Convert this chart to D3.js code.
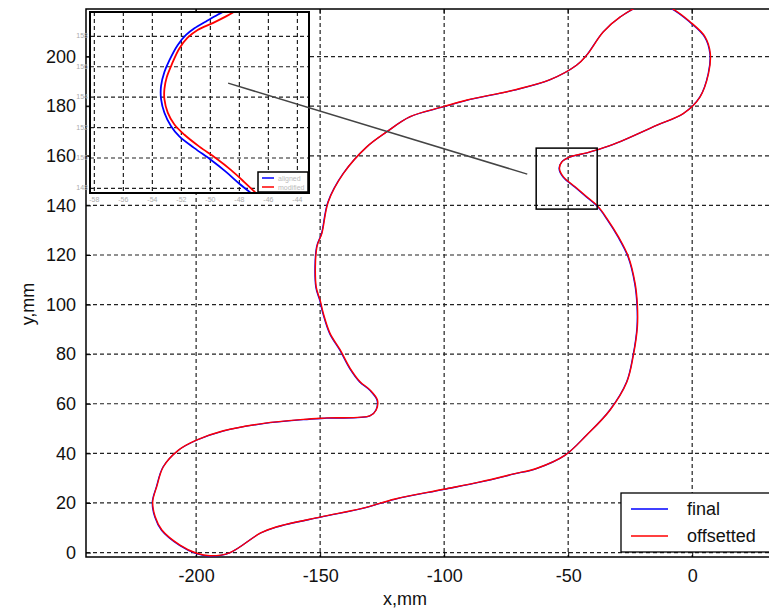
<!DOCTYPE html>
<html>
<head>
<meta charset="utf-8">
<script src="https://cdn.jsdelivr.net/npm/d3@7"></script>
<style>
  body { margin: 0; background: #fff; }
  text { font-family: "Liberation Sans", Arial, sans-serif; }
</style>
</head>
<body>
<svg id="chart" width="769" height="612"></svg>
<script>
// traced contour (closed loop), mm
const pathX = [-194.4, -186.3, -174, -167.5, -149.6, -132.7, -119.8, -100.3, -85.5, -72, -62.6, -51.2, -42.5, -33.1,
  -26.3, -23.7, -22.1, -22.1, -23, -25.7, -29.7, -34.4, -37.8, -42.5, -47.2, -51.9, -53.5, -52.5, -49.2, -42.5,
  -37.8, -30.4, -14.2, -3.5, 3.2, 6.6, 7.3, 5.2, -0.1, -10.2, -21, -29, -35.8, -42.5, -46.5, -57.3, -72, -90.8,
  -100.3, -113.7, -123.1, -131.2, -140.6, -146.7, -149.3, -151.3, -151.6, -150, -148.7, -146, -141.9, -137.9,
  -133.9, -129.8, -126.9, -127.4, -129.8, -147.3, -156.7, -172.8, -189, -199.7, -207.1, -213.2, -215.9, -217.5,
  -216.5, -213.8, -206.5, -199.8];
const pathY = [-1.3, 0, 7.9, 10.4, 14.4, 17.9, 21.6, 25.5, 28.5, 31.7, 34, 39.3, 47.4, 57.5,
  68.9, 79.6, 91, 99.8, 108.5, 119.3, 127.3, 134.8, 139.4, 143.5, 147.5, 151.5, 154.9, 157.6, 159.6, 161.2,
  162.6, 165.2, 172.4, 177.1, 183.8, 193.2, 201.3, 208, 213.4, 220.3, 220.3, 216, 210, 200.6, 196.6, 190.7, 186.5, 182.5,
  179.8, 175.8, 169.7, 163.6, 152.9, 141.5, 128.7, 123.3, 107.2, 101.8, 96.4, 88.4, 81.7, 74.3,
  68.9, 65.5, 61.5, 57.5, 55.2, 54.3, 53.7, 52.1, 49.1, 45.4, 41.3, 34.6, 26.5, 20.5,
  14.4, 9.1, 3, -0.3];

// zoomed detail (inset)
const insetFinalX = [-48.92, -49.5, -50.3, -51.1, -51.68, -52.26, -52.83, -53.17, -53.4, -53.4, -53.17, -52.71, -52.14, -51.1, -49.95, -48.92, -48.0, -47.19];
const insetFinalY = [159.71, 159.42, 158.98, 158.53, 158.09, 157.42, 156.42, 155.65, 154.75, 153.87, 152.98, 152.09, 151.42, 150.65, 149.87, 149.09, 148.31, 147.69];
const insetOffX = [-48.19, -48.92, -49.84, -50.88, -51.57, -52.14, -52.64, -53.01, -53.17, -53.17, -52.94, -52.48, -51.79, -50.76, -49.61, -48.57, -47.66, -46.85];
const insetOffY = [159.71, 159.31, 158.87, 158.42, 157.91, 157.2, 156.2, 155.31, 154.53, 153.87, 152.98, 152.2, 151.53, 150.75, 149.98, 149.2, 148.42, 147.69];

const xTicks = [-200, -150, -100, -50, 0];
const yTicks = [0, 20, 40, 60, 80, 100, 120, 140, 160, 180, 200];
const insetXTicks = [-58, -56, -54, -52, -50, -48, -46, -44];
const insetYTicks = [148, 150, 152, 154, 156, 158];

const zoomBox = {x0: -62.9, x1: -38.3, y0: 138.5, y1: 163.1};
const pointer = {x0: -187.1, y0: 189.3, x1: -66.5, y1: 152.6};

const legendNames = ["final", "offsetted"];
const insetLegendNames = ["aligned", "modified"];
const colors = ["#0000ff", "#ff0000"];

const svg = d3.select("#chart");

const pl = 86, pt = 9, pr = 779, pb = 557;
const x = d3.scaleLinear().domain([-244.4, 35]).range([pl, pr]);
const y = d3.scaleLinear().domain([-1.8, 219.2]).range([pb, pt]);

svg.append("clipPath").attr("id", "plotClip")
  .append("rect").attr("x", pl).attr("y", pt).attr("width", pr - pl).attr("height", pb - pt);

// grid
const grid = svg.append("g").attr("stroke", "#222").attr("stroke-width", 1.2).attr("stroke-dasharray", "4,3");
grid.selectAll("line.vx").data(xTicks).join("line")
  .attr("x1", d => x(d)).attr("x2", d => x(d)).attr("y1", pt).attr("y2", pb);
grid.selectAll("line.hy").data(yTicks).join("line")
  .attr("y1", d => y(d)).attr("y2", d => y(d)).attr("x1", pl).attr("x2", pr);

// axes (plain hyphen minus like the original)
const fmt = d => String(d);
const xAxis = d3.axisBottom(x).tickValues(xTicks).tickFormat(fmt).tickSizeInner(-5).tickSizeOuter(0).tickPadding(12);
const yAxis = d3.axisLeft(y).tickValues(yTicks).tickFormat(fmt).tickSizeInner(-5).tickSizeOuter(0).tickPadding(10);
const gx = svg.append("g").attr("transform", `translate(0,${pb})`).call(xAxis);
const gy = svg.append("g").attr("transform", `translate(${pl},0)`).call(yAxis);
[gx, gy].forEach(g => {
  g.select(".domain").remove();
  g.selectAll("line").attr("stroke", "#000");
  g.selectAll("text").attr("font-size", 18).attr("fill", "#111")
    .attr("font-family", "Liberation Sans, Arial, sans-serif");
});
// top ticks
svg.append("g").selectAll("line").data(xTicks).join("line")
  .attr("x1", d => x(d)).attr("x2", d => x(d)).attr("y1", pt).attr("y2", pt + 5).attr("stroke", "#000");

svg.append("rect").attr("x", pl).attr("y", pt).attr("width", pr - pl).attr("height", pb - pt)
  .attr("fill", "none").attr("stroke", "#000").attr("stroke-width", 1.5);

// curves
const pts = pathX.map((v, i) => [v, pathY[i]]);
const line = d3.line().x(d => x(d[0])).y(d => y(d[1])).curve(d3.curveCatmullRomClosed.alpha(0.5));
const curves = svg.append("g").attr("clip-path", "url(#plotClip)");
curves.append("path").attr("d", line(pts)).attr("fill", "none")
  .attr("stroke", colors[0]).attr("stroke-width", 1.3).attr("transform", "translate(-0.4,0.3)");
curves.append("path").attr("d", line(pts)).attr("fill", "none")
  .attr("stroke", colors[1]).attr("stroke-width", 1.4);

// zoom rectangle
svg.append("rect")
  .attr("x", x(zoomBox.x0)).attr("y", y(zoomBox.y1))
  .attr("width", x(zoomBox.x1) - x(zoomBox.x0)).attr("height", y(zoomBox.y0) - y(zoomBox.y1))
  .attr("fill", "none").attr("stroke", "#000").attr("stroke-width", 1.5);

// legend
const lg = svg.append("g");
lg.append("rect").attr("x", 621).attr("y", 493).attr("width", 160).attr("height", 59)
  .attr("fill", "#fff").attr("stroke", "#000").attr("stroke-width", 1.3);
legendNames.forEach((name, i) => {
  const ly = 509 + i * 27;
  lg.append("line").attr("x1", 631).attr("x2", 668).attr("y1", ly).attr("y2", ly)
    .attr("stroke", colors[i]).attr("stroke-width", 1.5);
  lg.append("text").attr("x", 687).attr("y", ly + 6).attr("font-size", 18).attr("fill", "#111").text(name);
});

// axis titles
svg.append("text").attr("x", 405).attr("y", 605).attr("text-anchor", "middle")
  .attr("font-size", 18).attr("fill", "#111").text("x,mm");
svg.append("text").attr("transform", "translate(34,304) rotate(-90)").attr("text-anchor", "middle")
  .attr("font-size", 18).attr("fill", "#111").text("y,mm");

// inset
const ix = d3.scaleLinear().domain([-58.3, -43.2]).range([90, 309]);
const iy = d3.scaleLinear().domain([147.7, 159.6]).range([193, 12]);
const inset = svg.append("g");
svg.append("clipPath").attr("id", "insetClip")
  .append("rect").attr("x", 90).attr("y", 12).attr("width", 219).attr("height", 181);
inset.append("rect").attr("x", 90).attr("y", 12).attr("width", 219).attr("height", 181).attr("fill", "#fff");
const ig = inset.append("g").attr("stroke", "#222").attr("stroke-width", 1.2).attr("stroke-dasharray", "4,3");
ig.selectAll("line.v").data(insetXTicks).join("line")
  .attr("x1", d => ix(d)).attr("x2", d => ix(d)).attr("y1", 12).attr("y2", 193);
ig.selectAll("line.h").data(insetYTicks).join("line")
  .attr("y1", d => iy(d)).attr("y2", d => iy(d)).attr("x1", 90).attr("x2", 309);

const iline = d3.line().x(d => ix(d[0])).y(d => iy(d[1])).curve(d3.curveCatmullRom.alpha(0.5));
const ic = inset.append("g").attr("clip-path", "url(#insetClip)");
ic.append("path").attr("d", iline(insetFinalX.map((v, i) => [v, insetFinalY[i]])))
  .attr("fill", "none").attr("stroke", colors[0]).attr("stroke-width", 1.8);
ic.append("path").attr("d", iline(insetOffX.map((v, i) => [v, insetOffY[i]])))
  .attr("fill", "none").attr("stroke", colors[1]).attr("stroke-width", 1.8);

inset.append("g").selectAll("text").data(insetXTicks).join("text")
  .attr("x", d => ix(d)).attr("y", 202).attr("text-anchor", "middle")
  .attr("font-size", 7).attr("fill", "#aaa").text(fmt);
inset.append("g").selectAll("text").data(insetYTicks).join("text")
  .attr("x", 88).attr("y", d => iy(d) + 2).attr("text-anchor", "end")
  .attr("font-size", 7).attr("fill", "#aaa").text(fmt);

// inset legend
const il = inset.append("g");
il.append("rect").attr("x", 258).attr("y", 172).attr("width", 50).attr("height", 20)
  .attr("fill", "#fff").attr("stroke", "#000").attr("stroke-width", 1.5);
insetLegendNames.forEach((name, i) => {
  const ly = 178 + i * 9;
  il.append("line").attr("x1", 262).attr("x2", 274).attr("y1", ly).attr("y2", ly)
    .attr("stroke", colors[i]).attr("stroke-width", 1.5);
  il.append("text").attr("x", 278).attr("y", ly + 2.5).attr("font-size", 7).attr("fill", "#bbb").text(name);
});

inset.append("rect").attr("x", 90).attr("y", 12).attr("width", 219).attr("height", 181)
  .attr("fill", "none").attr("stroke", "#000").attr("stroke-width", 2);

// pointer from inset to zoomed area
svg.append("line")
  .attr("x1", x(pointer.x0)).attr("y1", y(pointer.y0))
  .attr("x2", x(pointer.x1)).attr("y2", y(pointer.y1))
  .attr("stroke", "#444").attr("stroke-width", 1.5);
</script>
</body>
</html>
